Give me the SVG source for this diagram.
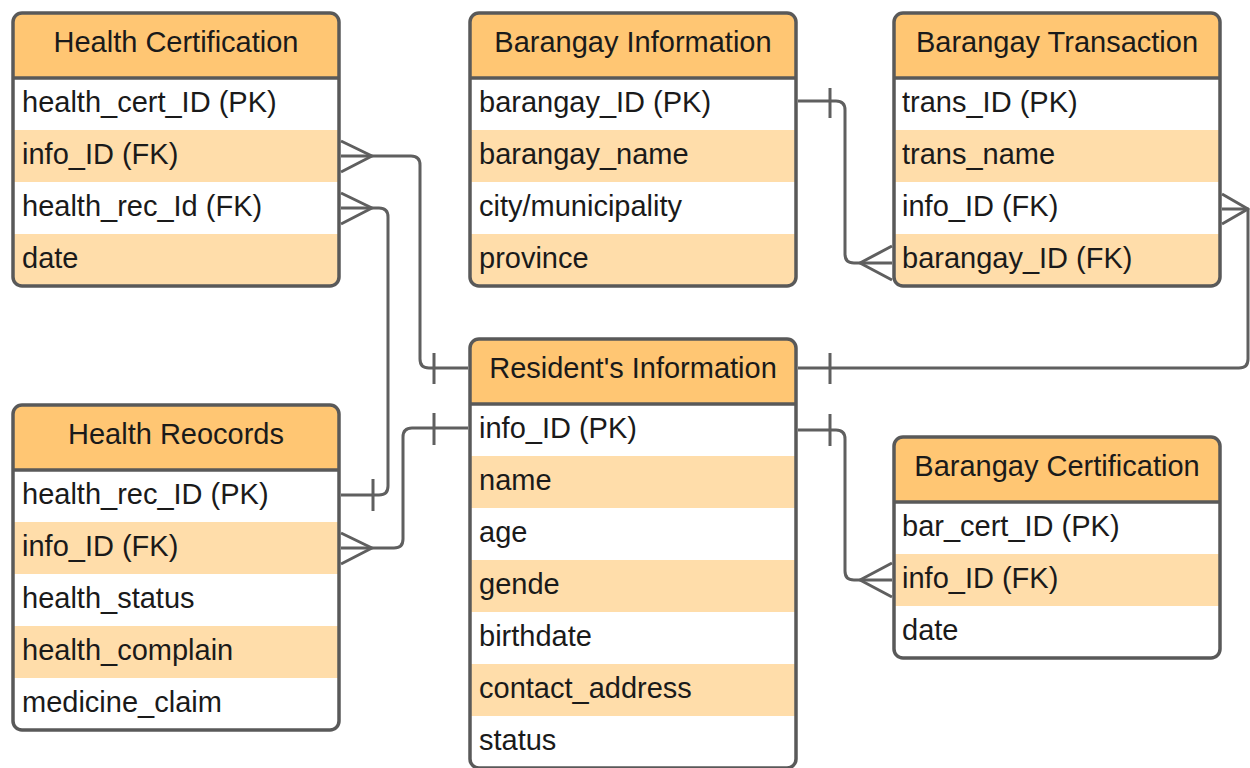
<svg xmlns="http://www.w3.org/2000/svg" width="1250" height="768" viewBox="0 0 1250 768">
<style>
.hdr{fill:#FFC673}
.alt{fill:#FFDDAA}
.wht{fill:#FFFFFF}
.frame{fill:none;stroke:#595959;stroke-width:3.5}
.sep{stroke:#595959;stroke-width:3.5}
.title{font-family:"Liberation Sans",Arial,sans-serif;font-size:29px;fill:#1a1a1a;text-anchor:middle}
.field{font-family:"Liberation Sans",Arial,sans-serif;font-size:29px;fill:#1a1a1a}
.conn path{fill:none;stroke:#5f5f5f;stroke-width:3;stroke-linejoin:round}
</style>
<defs>
<clipPath id="c1"><rect x="13" y="13" width="326" height="273" rx="9"/></clipPath>
<clipPath id="c2"><rect x="470" y="13" width="326" height="273" rx="9"/></clipPath>
<clipPath id="c3"><rect x="894" y="13" width="326" height="273" rx="9"/></clipPath>
<clipPath id="c4"><rect x="470" y="339" width="326" height="429" rx="9"/></clipPath>
<clipPath id="c5"><rect x="13" y="405" width="326" height="325" rx="9"/></clipPath>
<clipPath id="c6"><rect x="894" y="437" width="326" height="221" rx="9"/></clipPath>
</defs>
<rect width="1250" height="768" fill="#FFFFFF"/>

<g id="health-certification">
<g clip-path="url(#c1)">
<rect class="hdr" x="13" y="13" width="326" height="65"/>
<rect class="wht" x="13" y="78" width="326" height="52"/>
<rect class="alt" x="13" y="130" width="326" height="52"/>
<rect class="wht" x="13" y="182" width="326" height="52"/>
<rect class="alt" x="13" y="234" width="326" height="52"/>
</g>
<line class="sep" x1="13" y1="78" x2="339" y2="78"/>
<rect class="frame" x="13" y="13" width="326" height="273" rx="9"/>
<text class="title" x="176" y="52">Health Certification</text>
<text class="field" x="22" y="112">health_cert_ID (PK)</text>
<text class="field" x="22" y="164">info_ID (FK)</text>
<text class="field" x="22" y="216">health_rec_Id (FK)</text>
<text class="field" x="22" y="268">date</text>
</g>

<g id="barangay-information">
<g clip-path="url(#c2)">
<rect class="hdr" x="470" y="13" width="326" height="65"/>
<rect class="wht" x="470" y="78" width="326" height="52"/>
<rect class="alt" x="470" y="130" width="326" height="52"/>
<rect class="wht" x="470" y="182" width="326" height="52"/>
<rect class="alt" x="470" y="234" width="326" height="52"/>
</g>
<line class="sep" x1="470" y1="78" x2="796" y2="78"/>
<rect class="frame" x="470" y="13" width="326" height="273" rx="9"/>
<text class="title" x="633" y="52">Barangay Information</text>
<text class="field" x="479" y="112">barangay_ID (PK)</text>
<text class="field" x="479" y="164">barangay_name</text>
<text class="field" x="479" y="216">city/municipality</text>
<text class="field" x="479" y="268">province</text>
</g>

<g id="barangay-transaction">
<g clip-path="url(#c3)">
<rect class="hdr" x="894" y="13" width="326" height="65"/>
<rect class="wht" x="894" y="78" width="326" height="52"/>
<rect class="alt" x="894" y="130" width="326" height="52"/>
<rect class="wht" x="894" y="182" width="326" height="52"/>
<rect class="alt" x="894" y="234" width="326" height="52"/>
</g>
<line class="sep" x1="894" y1="78" x2="1220" y2="78"/>
<rect class="frame" x="894" y="13" width="326" height="273" rx="9"/>
<text class="title" x="1057" y="52">Barangay Transaction</text>
<text class="field" x="902" y="112">trans_ID (PK)</text>
<text class="field" x="902" y="164">trans_name</text>
<text class="field" x="902" y="216">info_ID (FK)</text>
<text class="field" x="902" y="268">barangay_ID (FK)</text>
</g>

<g id="residents-information">
<g clip-path="url(#c4)">
<rect class="hdr" x="470" y="339" width="326" height="65"/>
<rect class="wht" x="470" y="404" width="326" height="52"/>
<rect class="alt" x="470" y="456" width="326" height="52"/>
<rect class="wht" x="470" y="508" width="326" height="52"/>
<rect class="alt" x="470" y="560" width="326" height="52"/>
<rect class="wht" x="470" y="612" width="326" height="52"/>
<rect class="alt" x="470" y="664" width="326" height="52"/>
<rect class="wht" x="470" y="716" width="326" height="52"/>
</g>
<line class="sep" x1="470" y1="404" x2="796" y2="404"/>
<rect class="frame" x="470" y="339" width="326" height="429" rx="9"/>
<text class="title" x="633" y="378">Resident's Information</text>
<text class="field" x="479" y="438">info_ID (PK)</text>
<text class="field" x="479" y="490">name</text>
<text class="field" x="479" y="542">age</text>
<text class="field" x="479" y="594">gende</text>
<text class="field" x="479" y="646">birthdate</text>
<text class="field" x="479" y="698">contact_address</text>
<text class="field" x="479" y="750">status</text>
</g>

<g id="health-records">
<g clip-path="url(#c5)">
<rect class="hdr" x="13" y="405" width="326" height="65"/>
<rect class="wht" x="13" y="470" width="326" height="52"/>
<rect class="alt" x="13" y="522" width="326" height="52"/>
<rect class="wht" x="13" y="574" width="326" height="52"/>
<rect class="alt" x="13" y="626" width="326" height="52"/>
<rect class="wht" x="13" y="678" width="326" height="52"/>
</g>
<line class="sep" x1="13" y1="470" x2="339" y2="470"/>
<rect class="frame" x="13" y="405" width="326" height="325" rx="9"/>
<text class="title" x="176" y="444">Health Reocords</text>
<text class="field" x="22" y="504">health_rec_ID (PK)</text>
<text class="field" x="22" y="556">info_ID (FK)</text>
<text class="field" x="22" y="608">health_status</text>
<text class="field" x="22" y="660">health_complain</text>
<text class="field" x="22" y="712">medicine_claim</text>
</g>

<g id="barangay-certification">
<g clip-path="url(#c6)">
<rect class="hdr" x="894" y="437" width="326" height="65"/>
<rect class="wht" x="894" y="502" width="326" height="52"/>
<rect class="alt" x="894" y="554" width="326" height="52"/>
<rect class="wht" x="894" y="606" width="326" height="52"/>
</g>
<line class="sep" x1="894" y1="502" x2="1220" y2="502"/>
<rect class="frame" x="894" y="437" width="326" height="221" rx="9"/>
<text class="title" x="1057" y="476">Barangay Certification</text>
<text class="field" x="902" y="536">bar_cert_ID (PK)</text>
<text class="field" x="902" y="588">info_ID (FK)</text>
<text class="field" x="902" y="640">date</text>
</g>

<g id="connectors" class="conn">
<path d="M341,156 H411 Q420,156 420,165 V359 Q420,368 429,368 H468"/>
<path d="M434,353 V384"/>
<path d="M341,141 L372,156 L341,172"/>

<path d="M341,208 H379 Q388,208 388,217 V486 Q388,495 379,495 H341"/>
<path d="M373,479 V511"/>
<path d="M341,193 L372,208 L341,224"/>

<path d="M341,548 H394 Q403,548 403,539 V437 Q403,428 412,428 H468"/>
<path d="M434,413 V445"/>
<path d="M341,533 L372,548 L341,564"/>

<path d="M798,101 H836 Q845,101 845,110 V254 Q845,263 854,263 H892"/>
<path d="M830,88 V118"/>
<path d="M892,246 L860,263 L892,280"/>

<path d="M798,368 H1239 Q1248,368 1248,359 V209 H1222"/>
<path d="M830,353 V384"/>
<path d="M1222,194 L1248,209 L1222,224"/>

<path d="M798,430 H836 Q845,430 845,439 V571 Q845,580 854,580 H892"/>
<path d="M830,414 V446"/>
<path d="M892,563 L860,580 L892,597"/>
</g>
</svg>
